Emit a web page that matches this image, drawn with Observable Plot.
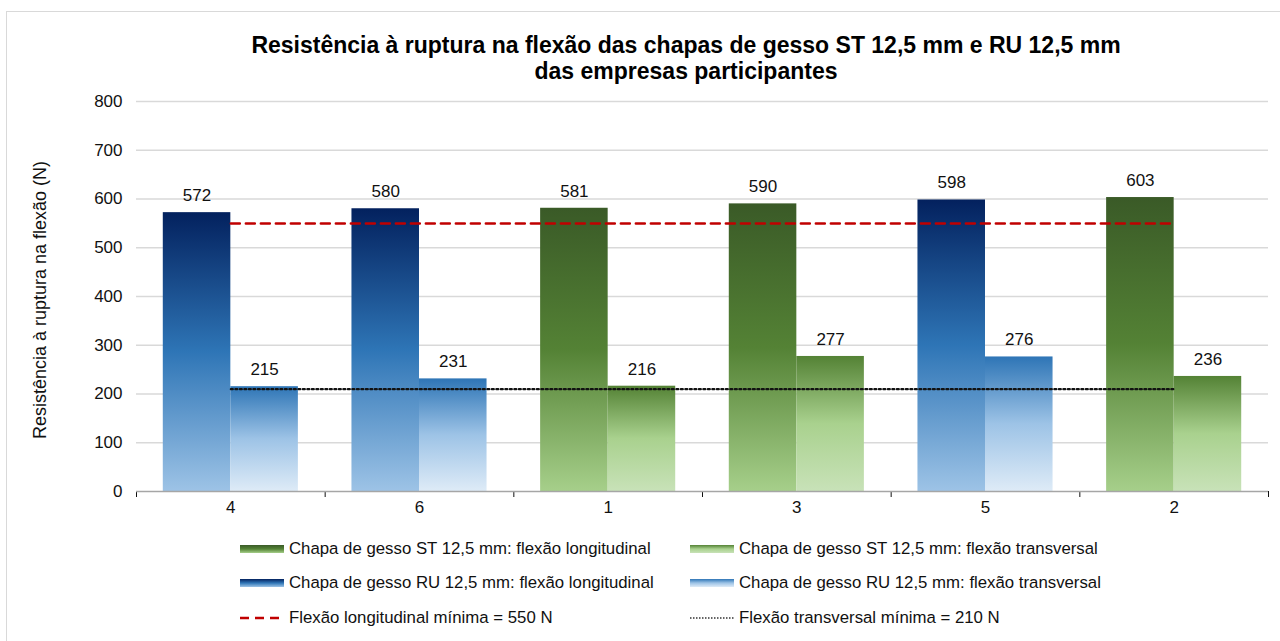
<!DOCTYPE html>
<html>
<head>
<meta charset="utf-8">
<script src="https://cdn.jsdelivr.net/npm/d3@7"></script>
<script src="https://cdn.jsdelivr.net/npm/@observablehq/plot@0.6"></script>
<style>
  html, body { margin: 0; padding: 0; background: #fff; }
  body { width: 1280px; height: 641px; position: relative; overflow: hidden;
         font-family: "Liberation Sans", Arial, sans-serif; color: #111; }
  #border { position: absolute; left: 6px; top: 11px; width: 1300px; height: 660px;
            border-left: 1.5px solid #d9d9d9; border-top: 1.5px solid #d9d9d9; }
  #title { position: absolute; left: 0; top: 32px; width: 1372px; text-align: center;
           font-weight: bold; font-size: 23px; line-height: 26px; color: #000; }
  #chart { position: absolute; left: 0; top: 86px; }
  #ylabel { position: absolute; left: 40px; top: 300px; transform: translate(-50%, -50%) rotate(-90deg);
            white-space: nowrap; font-size: 18px; color: #111; }
  .leg { position: absolute; display: flex; align-items: center; font-size: 16.8px; white-space: nowrap; color: #111; }
  .leg svg { margin-right: 5px; }
</style>
</head>
<body>
<svg width="0" height="0" style="position:absolute">
  <defs>
    <linearGradient id="ruL" x1="0" y1="0" x2="0" y2="1">
      <stop offset="0" stop-color="#03215e"/>
      <stop offset="0.5" stop-color="#2e75b6"/>
      <stop offset="1" stop-color="#9dc3e6"/>
    </linearGradient>
    <linearGradient id="ruT" x1="0" y1="0" x2="0" y2="1">
      <stop offset="0" stop-color="#2e75b6"/>
      <stop offset="0.5" stop-color="#9dc3e6"/>
      <stop offset="1" stop-color="#deebf7"/>
    </linearGradient>
    <linearGradient id="stL" x1="0" y1="0" x2="0" y2="1">
      <stop offset="0" stop-color="#3a5a27"/>
      <stop offset="0.5" stop-color="#548235"/>
      <stop offset="1" stop-color="#a6cf8a"/>
    </linearGradient>
    <linearGradient id="stT" x1="0" y1="0" x2="0" y2="1">
      <stop offset="0" stop-color="#548235"/>
      <stop offset="0.5" stop-color="#a9d18e"/>
      <stop offset="1" stop-color="#c8e2b8"/>
    </linearGradient>
  </defs>
</svg>
<div id="border"></div>
<div id="title">Resistência à ruptura na flexão das chapas de gesso ST 12,5 mm e RU 12,5 mm<br>das empresas participantes</div>
<div id="ylabel">Resistência à ruptura na flexão (N)</div>
<div id="chart"></div>
<div id="legend"></div>
<script>
// ---- data ----
const groups = ["4", "6", "1", "3", "5", "2"];
const plateTypes = ["RU", "RU", "ST", "ST", "RU", "ST"];
const longitudinal = [572, 580, 581, 590, 598, 603];
const transversal = [215, 231, 216, 277, 276, 236];
const minLongitudinal = 550;
const minTransversal = 210;
const yTicks = [0, 100, 200, 300, 400, 500, 600, 700, 800];
const legendLabels = [
  "Chapa de gesso ST 12,5 mm: flexão longitudinal",
  "Chapa de gesso ST 12,5 mm: flexão transversal",
  "Chapa de gesso RU 12,5 mm: flexão longitudinal",
  "Chapa de gesso RU 12,5 mm: flexão transversal",
  "Flexão longitudinal mínima = 550 N",
  "Flexão transversal mínima = 210 N"
];

// ---- build table ----
const n = groups.length;
const idx = d3.range(n);
const half = 0.358; // bar width as fraction of a category slot
const rows = idx.flatMap(i => [
  {i, kind: "L", type: plateTypes[i], x1: i + 0.5 - half, x2: i + 0.5, v: longitudinal[i]},
  {i, kind: "T", type: plateTypes[i], x1: i + 0.5, x2: i + 0.5 + half, v: transversal[i]}
]);
const sel = (type, kind) => rows.filter(d => d.type === type && d.kind === kind);

const chart = Plot.plot({
  width: 1280,
  height: 444,
  marginTop: 15,
  marginBottom: 39,
  marginLeft: 136,
  marginRight: 12,
  style: {fontSize: "17px", fontFamily: "'Liberation Sans', Arial, sans-serif", color: "#111", background: "transparent"},
  x: {domain: [0, n], ticks: d3.range(n + 1), tickSize: 6, tickFormat: () => "", label: null, line: false},
  y: {domain: [0, 800], ticks: yTicks, tickSize: 0, tickPadding: 14, label: null},
  marks: [
    Plot.ruleY(yTicks.filter(t => t > 0), {stroke: "#d9d9d9", strokeWidth: 1.5}),
    Plot.rectY(sel("RU", "L"), {x1: "x1", x2: "x2", y1: 0, y2: "v", fill: "url(#ruL)"}),
    Plot.rectY(sel("RU", "T"), {x1: "x1", x2: "x2", y1: 0, y2: "v", fill: "url(#ruT)"}),
    Plot.rectY(sel("ST", "L"), {x1: "x1", x2: "x2", y1: 0, y2: "v", fill: "url(#stL)"}),
    Plot.rectY(sel("ST", "T"), {x1: "x1", x2: "x2", y1: 0, y2: "v", fill: "url(#stT)"}),
    Plot.ruleY([0], {stroke: "#a6a6a6", strokeWidth: 1.3}),
    Plot.lineY(idx, {x: i => i + 0.5, y: () => minLongitudinal, stroke: "#c00000", strokeWidth: 2.5, strokeDasharray: "9,6"}),
    Plot.lineY(idx, {x: i => i + 0.5, y: () => minTransversal, stroke: "#111", strokeWidth: 2.2, strokeDasharray: "2,2.5"}),
    Plot.text(rows, {x: d => (d.x1 + d.x2) / 2, y: "v", text: d => String(d.v), dy: -17, fontSize: 17, fill: "#111"}),
    Plot.text(idx, {x: i => i + 0.5, frameAnchor: "bottom", text: i => groups[i], dy: 21, fontSize: 17, fill: "#111"})
  ]
});
document.getElementById("chart").appendChild(chart);

// ---- legend ----
const legend = document.getElementById("legend");
const swatches = [
  `<rect x="0" y="0" width="44" height="8" fill="url(#stL)"/>`,
  `<rect x="0" y="0" width="44" height="8" fill="url(#stT)"/>`,
  `<rect x="0" y="0" width="44" height="8" fill="url(#ruL)"/>`,
  `<rect x="0" y="0" width="44" height="8" fill="url(#ruT)"/>`,
  `<line x1="0" x2="44" y1="4" y2="4" stroke="#c00000" stroke-width="2.5" stroke-dasharray="9,6"/>`,
  `<line x1="0" x2="44" y1="4" y2="4" stroke="#333" stroke-width="1.5" stroke-dasharray="1.5,1.5"/>`
];
const colX = [240, 690];
const rowY = [549, 583, 618];
legendLabels.forEach((label, k) => {
  const div = document.createElement("div");
  div.className = "leg";
  div.style.left = colX[k % 2] + "px";
  div.style.top = (rowY[Math.floor(k / 2)] - 10) + "px";
  div.style.height = "20px";
  div.innerHTML = `<svg width="44" height="8">${swatches[k]}</svg><span>${label}</span>`;
  legend.appendChild(div);
});
</script>
</body>
</html>
